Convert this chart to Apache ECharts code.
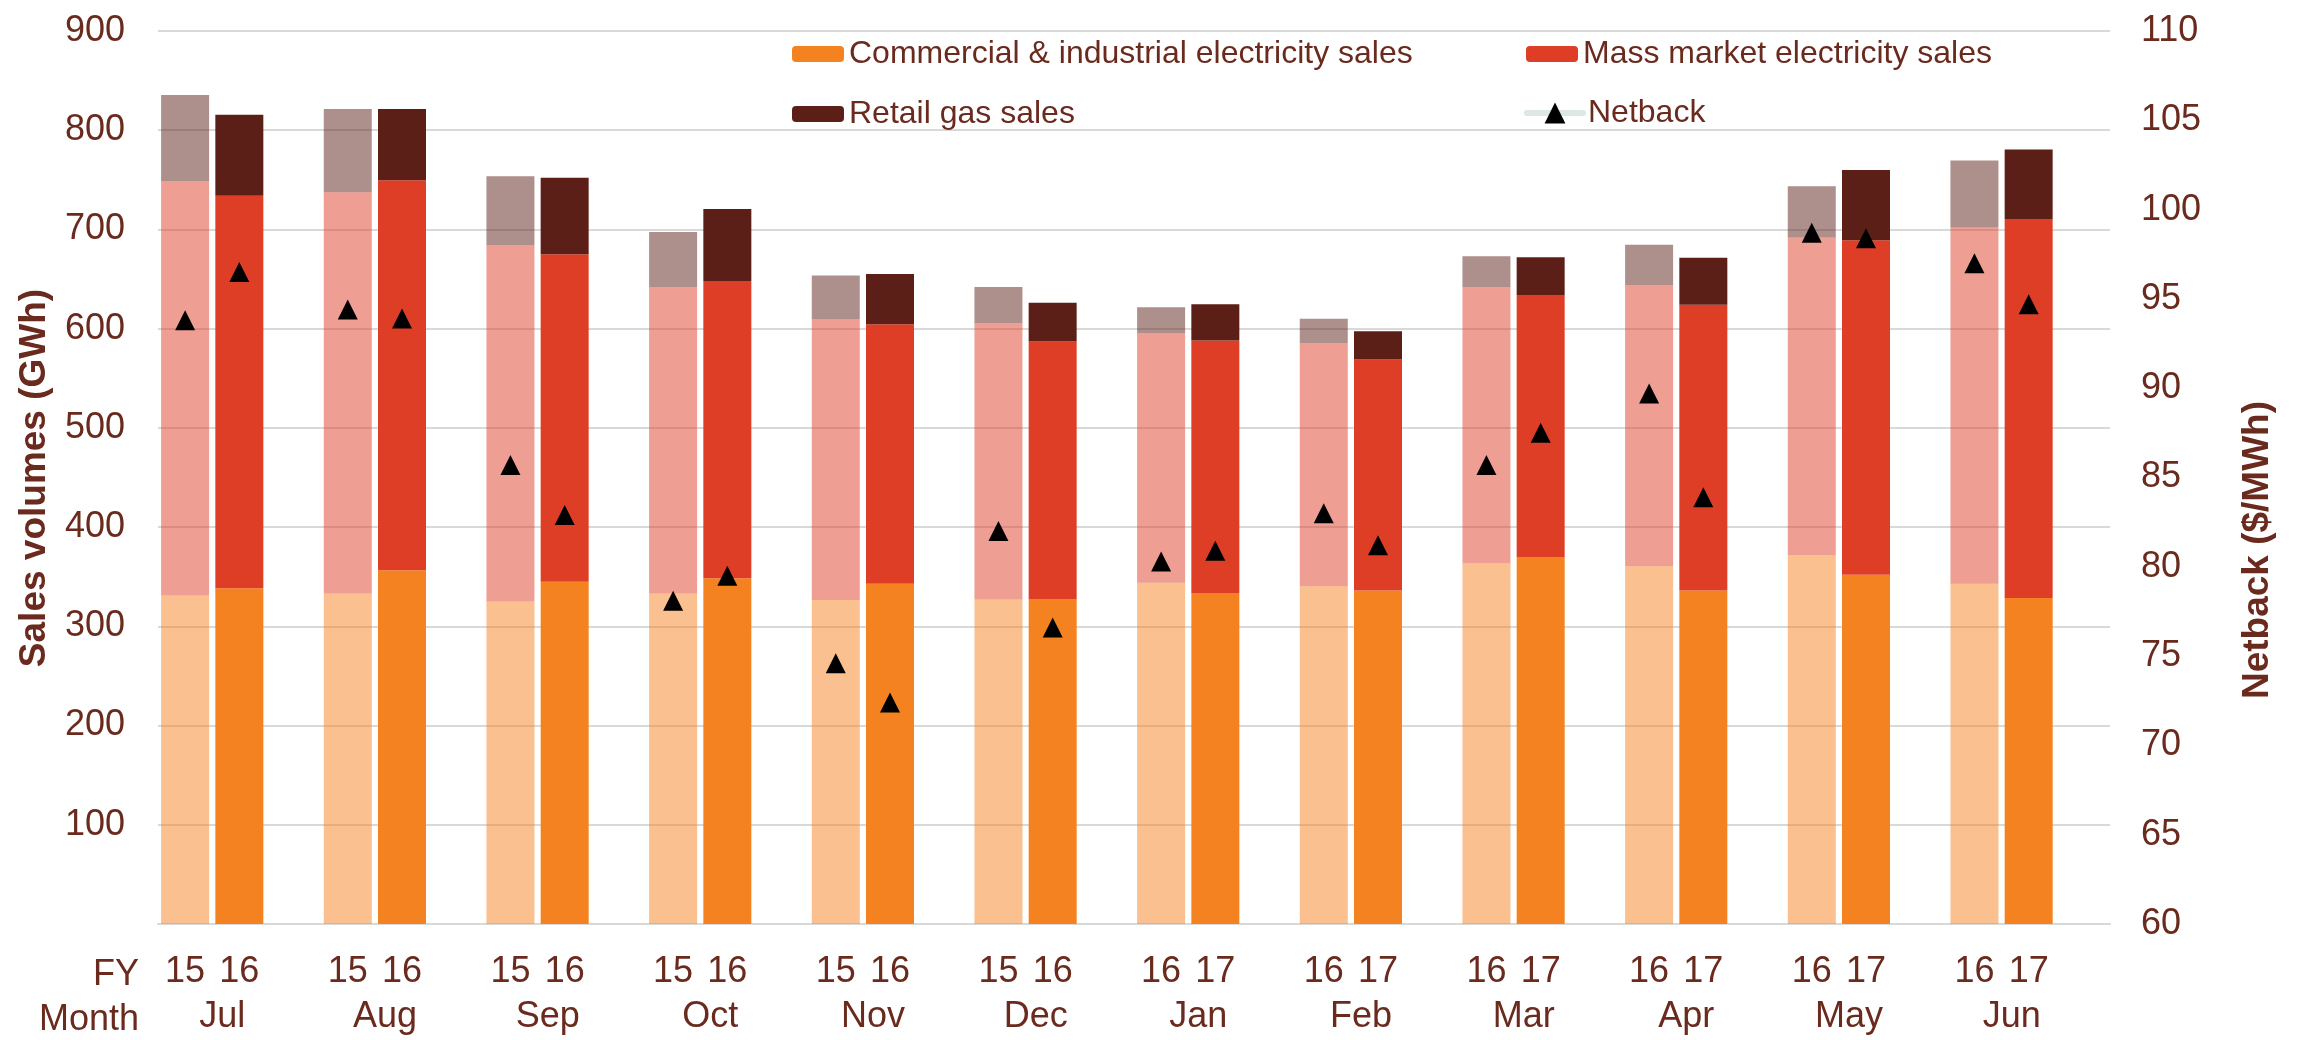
<!DOCTYPE html>
<html>
<head>
<meta charset="utf-8">
<script src="https://cdn.jsdelivr.net/npm/echarts@6/dist/echarts.min.js"></script>
<style>
html,body{margin:0;padding:0;background:#ffffff;}
#chart{width:2304px;height:1040px;}
</style>
</head>
<body>
<div id="chart"></div>
<script>
// ---------------- data ----------------
const months = ['Jul','Aug','Sep','Oct','Nov','Dec','Jan','Feb','Mar','Apr','May','Jun'];
const fyPrior   = ['15','15','15','15','15','15','16','16','16','16','16','16'];
const fyCurrent = ['16','16','16','16','16','16','17','17','17','17','17','17'];

// Sales volumes (GWh), previous financial year (lighter bars)
const ciPrior   = [331, 333, 325, 333, 326.5, 327, 344, 340.5, 363.5, 360.5, 372, 343];
const massPrior = [417.5, 404.5, 359, 309, 283, 278.5, 251.5, 245, 278.5, 283.5, 320, 359];
const gasPrior  = [87, 84, 69.5, 55.5, 44, 36.5, 26, 24.5, 31, 40.5, 51.5, 67.5];

// Sales volumes (GWh), current financial year (solid bars)
const ciCurrent   = [338.5, 356.5, 345, 348.5, 343, 327, 333.5, 336, 370, 336, 352, 328.5];
const massCurrent = [395.5, 393, 330, 299.5, 261.5, 260, 254.5, 233, 264, 288, 337, 382];
const gasCurrent  = [81.5, 72, 77, 72.5, 50.5, 39, 36.5, 28.5, 38, 47.5, 71, 70];

// Netback ($/MWh)
const netbackPrior   = [93.8, 94.4, 85.7, 78.1, 74.6, 82.0, 80.3, 83.0, 85.7, 89.7, 98.7, 97.0];
const netbackCurrent = [96.5, 93.9, 82.9, 79.5, 72.4, 76.6, 80.9, 81.2, 87.5, 83.9, 98.4, 94.7];

const seriesNames = {
  ci: 'Commercial & industrial electricity sales',
  mass: 'Mass market electricity sales',
  gas: 'Retail gas sales',
  net: 'Netback'
};

// ---------------- build 3-slot-per-month layout (prior, current, gap) ----------------
const slotIds = [];
const fySlotLabels = [];
const monthSlotLabels = [];
months.forEach((m, i) => {
  slotIds.push(m + '-p', m + '-c', m + '-g');
  fySlotLabels.push(fyPrior[i], fyCurrent[i], '');
  monthSlotLabels.push('', m, '');
});
function toPriorSlots(arr) { const o = []; arr.forEach(v => o.push(v, '-', '-')); return o; }
function toCurrentSlots(arr) { const o = []; arr.forEach(v => o.push('-', v, '-')); return o; }
const netbackSlots = [];
months.forEach((m, i) => netbackSlots.push(netbackPrior[i], netbackCurrent[i], '-'));

// ---------------- styling ----------------
const FONT = "'Liberation Sans', Arial, Helvetica, sans-serif";
const TXT = '#6a2a1e';
const GRID = '#d9d9d9';
const COL = { ci: '#f58220', mass: '#de3e26', gas: '#5c1f17' };

const chart = echarts.init(document.getElementById('chart'), null, { renderer: 'canvas' });

function bar(name, data, color, opacity) {
  return {
    name: name, type: 'bar', stack: 'volume', barWidth: 48,
    xAxisIndex: 0, yAxisIndex: 0, data: data, silent: true,
    itemStyle: { color: color, opacity: opacity },
    emphasis: { disabled: true }
  };
}

const legendText = { fontSize: 32, color: TXT, fontFamily: FONT };

const option = {
  animation: false,
  backgroundColor: '#ffffff',
  grid: { left: 158, right: 194, top: 31, bottom: 116, containLabel: false },
  legend: [
    { data: [seriesNames.ci], left: 792, top: 38, padding: 0, itemWidth: 52, itemHeight: 16, selectedMode: false, textStyle: legendText },
    { data: [seriesNames.gas], left: 792, top: 98, padding: 0, itemWidth: 52, itemHeight: 16, selectedMode: false, textStyle: legendText },
    { data: [seriesNames.mass], left: 1526, top: 38, padding: 0, itemWidth: 52, itemHeight: 16, selectedMode: false, textStyle: legendText },
    { data: [seriesNames.net], left: 1524, top: 97, padding: 0, itemWidth: 56, itemHeight: 26, selectedMode: false, textStyle: legendText,
      lineStyle: { color: '#dde8e2', width: 6, opacity: 1, cap: 'round' },
      itemStyle: { color: '#000000', opacity: 1 } }
  ],
  xAxis: [
    {
      type: 'category', gridIndex: 0, position: 'bottom', data: slotIds,
      axisLine: { show: true, lineStyle: { color: GRID, width: 2 } },
      axisTick: { show: false },
      axisLabel: { interval: 0, margin: 30, fontSize: 36, color: TXT, fontFamily: FONT,
        formatter: (v, i) => fySlotLabels[i] }
    },
    {
      type: 'category', gridIndex: 0, position: 'bottom', offset: 0, data: slotIds,
      axisLine: { show: false }, axisTick: { show: false }, splitLine: { show: false },
      axisLabel: { interval: 0, margin: 75, fontSize: 36, color: TXT, fontFamily: FONT,
        padding: [0, 34, 0, 0],
        formatter: (v, i) => monthSlotLabels[i] }
    }
  ],
  yAxis: [
    {
      type: 'value', min: 0, max: 900, interval: 100, position: 'left',
      axisLine: { show: false }, axisTick: { show: false },
      splitLine: { show: true, lineStyle: { color: GRID, width: 2 } },
      axisLabel: { margin: 33, fontSize: 36, color: TXT, fontFamily: FONT,
        formatter: v => (v === 0 ? '' : String(v)) }
    },
    {
      type: 'value', min: 60, max: 110, interval: 5, position: 'right',
      axisLine: { show: false }, axisTick: { show: false },
      splitLine: { show: false },
      axisLabel: { margin: 31, fontSize: 36, color: TXT, fontFamily: FONT }
    }
  ],
  series: [
    bar(seriesNames.ci, toCurrentSlots(ciCurrent), COL.ci, 1),
    bar(seriesNames.mass, toCurrentSlots(massCurrent), COL.mass, 1),
    bar(seriesNames.gas, toCurrentSlots(gasCurrent), COL.gas, 1),
    bar(seriesNames.ci + ' (prior FY)', toPriorSlots(ciPrior), COL.ci, 0.5),
    bar(seriesNames.mass + ' (prior FY)', toPriorSlots(massPrior), COL.mass, 0.5),
    bar(seriesNames.gas + ' (prior FY)', toPriorSlots(gasPrior), COL.gas, 0.5),
    {
      name: seriesNames.net, type: 'line', xAxisIndex: 0, yAxisIndex: 1,
      data: netbackSlots, connectNulls: false, showSymbol: true, showAllSymbol: true,
      symbol: 'triangle', symbolSize: [20, 20], silent: true, z: 5,
      itemStyle: { color: '#000000' },
      lineStyle: { width: 0, opacity: 0 },
      emphasis: { disabled: true }
    }
  ],
  graphic: [
    { type: 'text', x: 35, y: 478, rotation: Math.PI / 2,
      style: { text: 'Sales volumes (GWh)', fill: TXT, font: "bold 37px " + FONT, align: 'center', verticalAlign: 'middle' } },
    { type: 'text', x: 2258, y: 550, rotation: Math.PI / 2,
      style: { text: 'Netback ($/MWh)', fill: TXT, font: "bold 37px " + FONT, align: 'center', verticalAlign: 'middle' } },
    { type: 'text', x: 139, y: 975,
      style: { text: 'FY', fill: TXT, font: "36px " + FONT, align: 'right', verticalAlign: 'middle' } },
    { type: 'text', x: 139, y: 1020,
      style: { text: 'Month', fill: TXT, font: "36px " + FONT, align: 'right', verticalAlign: 'middle' } }
  ]
};
chart.setOption(option);
</script>
</body>
</html>
